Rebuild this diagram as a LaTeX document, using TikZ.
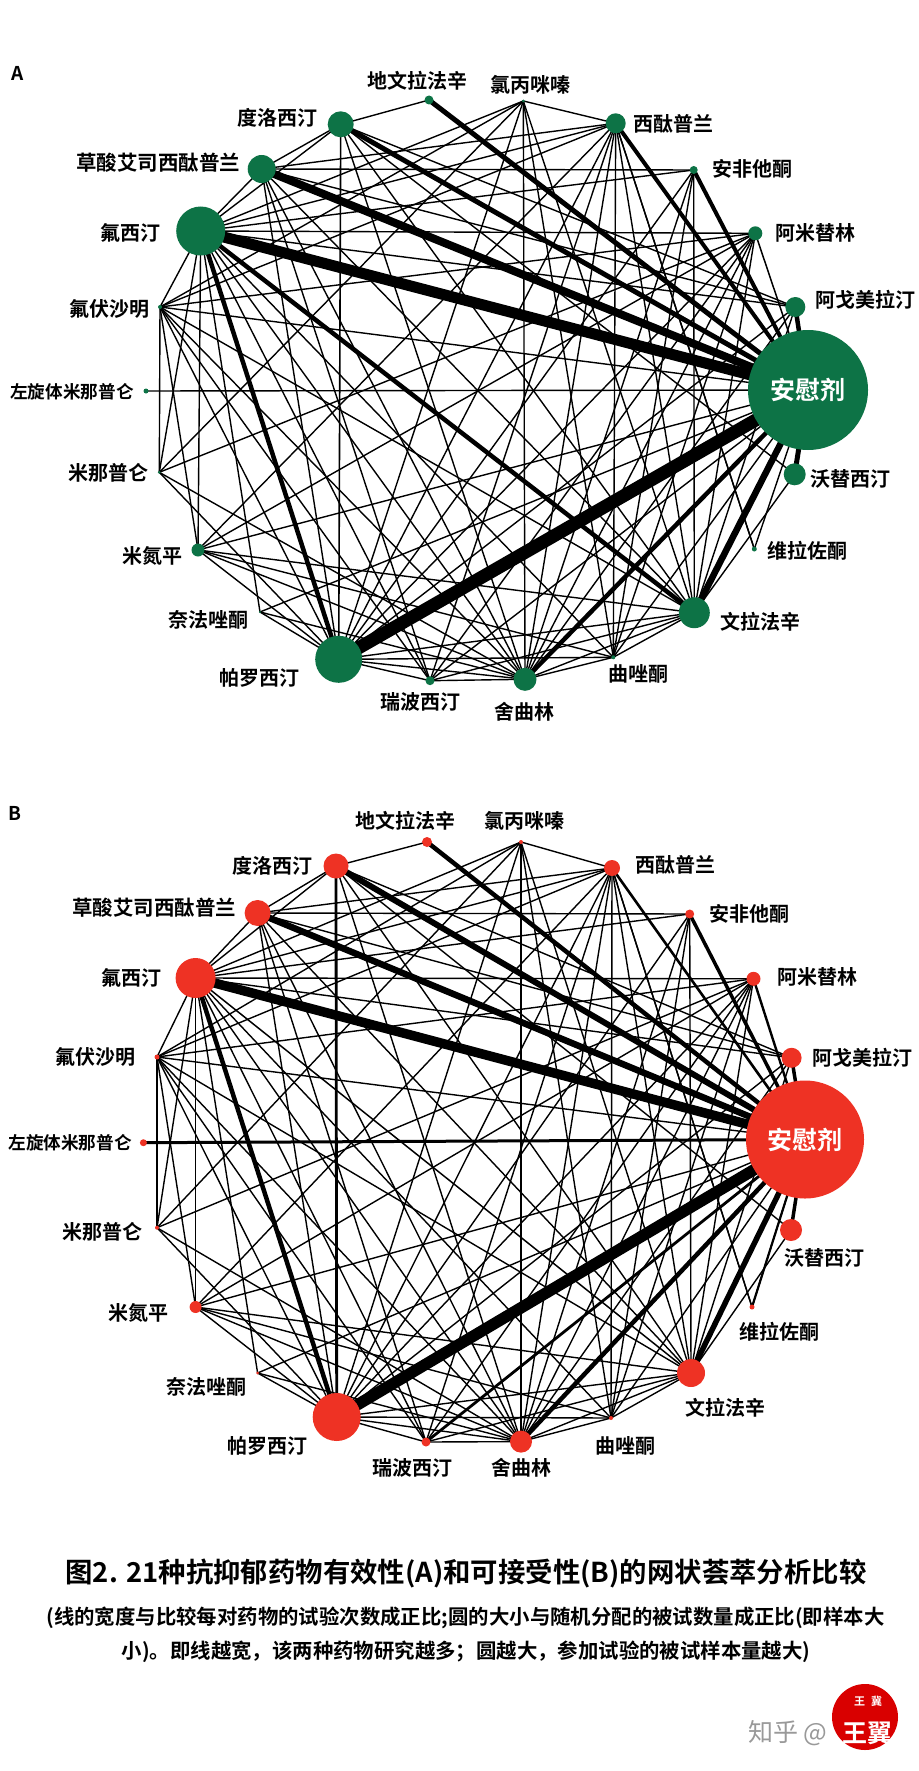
\documentclass[tikz,border=0pt]{standalone}
\usepackage{fontspec}
\setmainfont{Noto Sans CJK SC}[BoldFont={* Bold}]
\usetikzlibrary{backgrounds}
\newcommand{\thinlist}{1/7,1/8,1/9,1/15,1/17,1/19,
2/9,2/10,2/12,2/13,2/15,2/16,2/17,2/18,2/19,
3/8,3/9,3/15,3/17,3/18,3/19,
4/5,4/8,4/9,4/10,4/13,4/15,4/16,4/17,4/18,4/19,4/20,
5/9,5/10,5/12,5/15,5/17,5/18,5/19,
6/7,7/8,7/9,7/21,7/19,7/17,
8/9,8/15,8/16,8/17,8/19,
9/10,9/12,9/13,9/14,9/16,9/17,9/18,
10/12,10/13,10/15,10/16,10/17,10/19,10/0,
12/15,12/17,
13/19,13/18,13/17,13/15,13/0,
14/0,14/15,14/17,
15/16,15/17,15/18,15/19,
16/17,16/19,17/18,17/19,18/19,19/21,20/0,18/0}
\definecolor{ngreen}{RGB}{13,115,70}
\definecolor{nred}{RGB}{238,50,36}
\tikzset{
 x=1pt,y=-1pt,
 drugdot/.style={circle,inner sep=0pt,outer sep=0pt,draw=none},
 netline/.style={black,line cap=butt},
 lab/.style={inner sep=0pt,font=\fontsize{20}{22}\selectfont\bfseries},
 labs/.style={inner sep=0pt,font=\fontsize{17.6}{19}\selectfont\bfseries},
 labl/.style={inner sep=0pt,font=\fontsize{20.5}{22}\selectfont\bfseries},
 panel/.style={inner sep=0pt,font=\fontsize{19}{20}\selectfont\bfseries},
}
\begin{document}
\begin{tikzpicture}
\useasboundingbox (0,0) rectangle (918,1771);
% Panel A nodes
\foreach \n/\x/\y/\r in {1/795.3/307/10,2/755.3/233.3/7,3/693.7/170/4,4/615.7/123.3/10,5/523.3/101/1.5,6/429/100/4.5,7/340.7/124.3/13,8/261.7/169/14,9/200.7/231/24.5,10/160/307/2,11/146/391/2.5,12/159.3/472.3/1.5,13/198/550/6.5,14/260/612/1.2,15/338.7/659.3/23.5,16/430/680.7/4.5,17/525/679.3/11.5,18/613.3/657.3/2,19/694.3/612.7/15.5,20/754.3/549/2.5,21/794.7/474.3/11}
  \node[drugdot,fill=ngreen,minimum size=2*\r pt] (A\n) at (\x,\y) {};
\node[drugdot,fill=ngreen,minimum size=120pt,text=white,font=\fontsize{25}{26}\selectfont\bfseries] (A0) at (808,390) {安慰剂};
\begin{scope}[on background layer]
 \foreach \a/\b in \thinlist \draw[netline,line width=1.4pt] (A\a.center) -- (A\b.center);
 \foreach \a/\b/\w in {11/0/1.4,0/1/4.5,0/2/1.5,0/3/4,0/4/4,0/6/5,0/7/5,0/8/8,0/9/11,0/15/13,0/16/1.4,0/17/4.5,0/19/6.5,0/21/5,9/15/4.5,9/19/4.5,7/15/1.6,4/20/1.4}
   \draw[netline,line width=\w pt] (A\a.center) -- (A\b.center);
\end{scope}
% Panel A labels
\node[panel] (pa) at (18,73.5) {A};
\node[lab] (la6) at (417.5,81) {地文拉法辛};
\node[lab] (la5) at (530,84.6) {氯丙咪嗪};
\node[lab] (la4) at (673,123.5) {西酞普兰};
\node[lab] (la3) at (752,168.6) {安非他酮};
\node[lab] (la2) at (815,233) {阿米替林};
\node[lab] (la1) at (865.4,300) {阿戈美拉汀};
\node[lab] (la21) at (850,479) {沃替西汀};
\node[lab] (la20) at (807,551) {维拉佐酮};
\node[lab] (la19) at (760,622) {文拉法辛};
\node[lab] (la18) at (638,674) {曲唑酮};
\node[lab] (la17) at (524,712) {舍曲林};
\node[lab] (la16) at (420,701.6) {瑞波西汀};
\node[lab] (la15) at (259,678) {帕罗西汀};
\node[lab] (la14) at (208,619.5) {奈法唑酮};
\node[lab] (la13) at (152,556) {米氮平};
\node[lab] (la12) at (108,473) {米那普仑};
\node[labs] (la11) at (72,392) {左旋体米那普仑};
\node[lab] (la10) at (109.5,309) {氟伏沙明};
\node[lab] (la9) at (130.6,233) {氟西汀};
\node[labl] (la8) at (158,163) {草酸艾司西酞普兰};
\node[lab] (la7) at (277,118) {度洛西汀};
% Panel B nodes
\foreach \n/\x/\y/\r in {1/791.6/1057.8/10,2/753.5/978.8/7,3/689.7/914/4.5,4/612/868/8,5/521/842/2,6/427/842/5,7/336/866/12.5,8/257.6/913/13,9/195.6/978/20,10/157/1057/2.5,11/143.4/1142.7/3.5,12/157/1227.7/2,13/195.6/1307/6,14/257.6/1373/1.5,15/336.7/1417/24,16/426/1442/4.5,17/521/1441.6/11,18/611/1418/2,19/691/1373/14,20/752/1307/2.5,21/791/1230/11}
  \node[drugdot,fill=nred,minimum size=2*\r pt] (B\n) at (\x,\y) {};
\node[drugdot,fill=nred,minimum size=118pt,text=white,font=\fontsize{25}{26}\selectfont\bfseries] (B0) at (805,1139.5) {安慰剂};
\begin{scope}[on background layer]
 \foreach \a/\b in \thinlist \draw[netline,line width=1.4pt] (B\a.center) -- (B\b.center);
 \foreach \a/\b/\w in {11/0/3,0/1/3.5,0/2/2.4,0/3/3.5,0/4/2.6,0/6/4.5,0/7/6,0/8/6.5,0/9/9.5,0/15/11.5,0/16/2.8,0/17/4.5,0/19/5.5,0/21/3.5,9/15/4.5,9/19/1.5,7/15/2.8,4/20/1.4,0/20/2.2}
   \draw[netline,line width=\w pt] (B\a.center) -- (B\b.center);
\end{scope}
% Panel B labels
\node[panel] (pb) at (14.6,813) {B};
\node[lab] (lb6) at (405,821) {地文拉法辛};
\node[lab] (lb5) at (524.6,821) {氯丙咪嗪};
\node[lab] (lb4) at (675,865) {西酞普兰};
\node[lab] (lb3) at (749.4,914) {安非他酮};
\node[lab] (lb2) at (817,976.5) {阿米替林};
\node[lab] (lb1) at (862,1057.8) {阿戈美拉汀};
\node[lab] (lb21) at (824.4,1258) {沃替西汀};
\node[lab] (lb20) at (779,1332) {维拉佐酮};
\node[lab] (lb19) at (725,1407.6) {文拉法辛};
\node[lab] (lb18) at (625,1446) {曲唑酮};
\node[lab] (lb17) at (521,1468) {舍曲林};
\node[lab] (lb16) at (412,1468) {瑞波西汀};
\node[lab] (lb15) at (267.6,1446) {帕罗西汀};
\node[lab] (lb14) at (206,1387) {奈法唑酮};
\node[lab] (lb13) at (138,1312.6) {米氮平};
\node[lab] (lb12) at (102.5,1232) {米那普仑};
\node[labs] (lb11) at (70,1142.7) {左旋体米那普仑};
\node[lab] (lb10) at (95.4,1057) {氟伏沙明};
\node[lab] (lb9) at (131.7,978) {氟西汀};
\node[labl] (lb8) at (154,907.6) {草酸艾司西酞普兰};
\node[lab] (lb7) at (272,865.4) {度洛西汀};
% Caption
\node[inner sep=0pt,font=\fontsize{27.4}{29}\selectfont\bfseries] (title) at (466,1573) {图2. 21种抗抑郁药物有效性(A)和可接受性(B)的网状荟萃分析比较};
\node[inner sep=0pt,font=\fontsize{20.4}{22}\selectfont\bfseries] (sub1) at (465.5,1618) {(线的宽度与比较每对药物的试验次数成正比;圆的大小与随机分配的被试数量成正比(即样本大};
\node[inner sep=0pt,font=\fontsize{20.4}{22}\selectfont\bfseries] (sub2) at (466,1652) {小)。即线越宽，该两种药物研究越多；圆越大，参加试验的被试样本量越大)};
% Watermark
\node[circle,fill=red!85!black,minimum size=66pt,inner sep=0pt] (seal) at (865,1717) {};
\node[inner sep=0pt,text=white,font=\fontsize{11}{12}\selectfont\bfseries] (sealtxt) at (868,1701) {王\hspace{6pt}冀};
\node[inner sep=0pt,text=black!40,font=\fontsize{25}{26}\selectfont,anchor=west] (zh) at (748,1733) {知乎 @};
\node[inner sep=0pt,text=white,font=\fontsize{25}{26}\selectfont\bfseries,anchor=west] (zh2) at (842,1733) {王翼};
\end{tikzpicture}
\end{document}
